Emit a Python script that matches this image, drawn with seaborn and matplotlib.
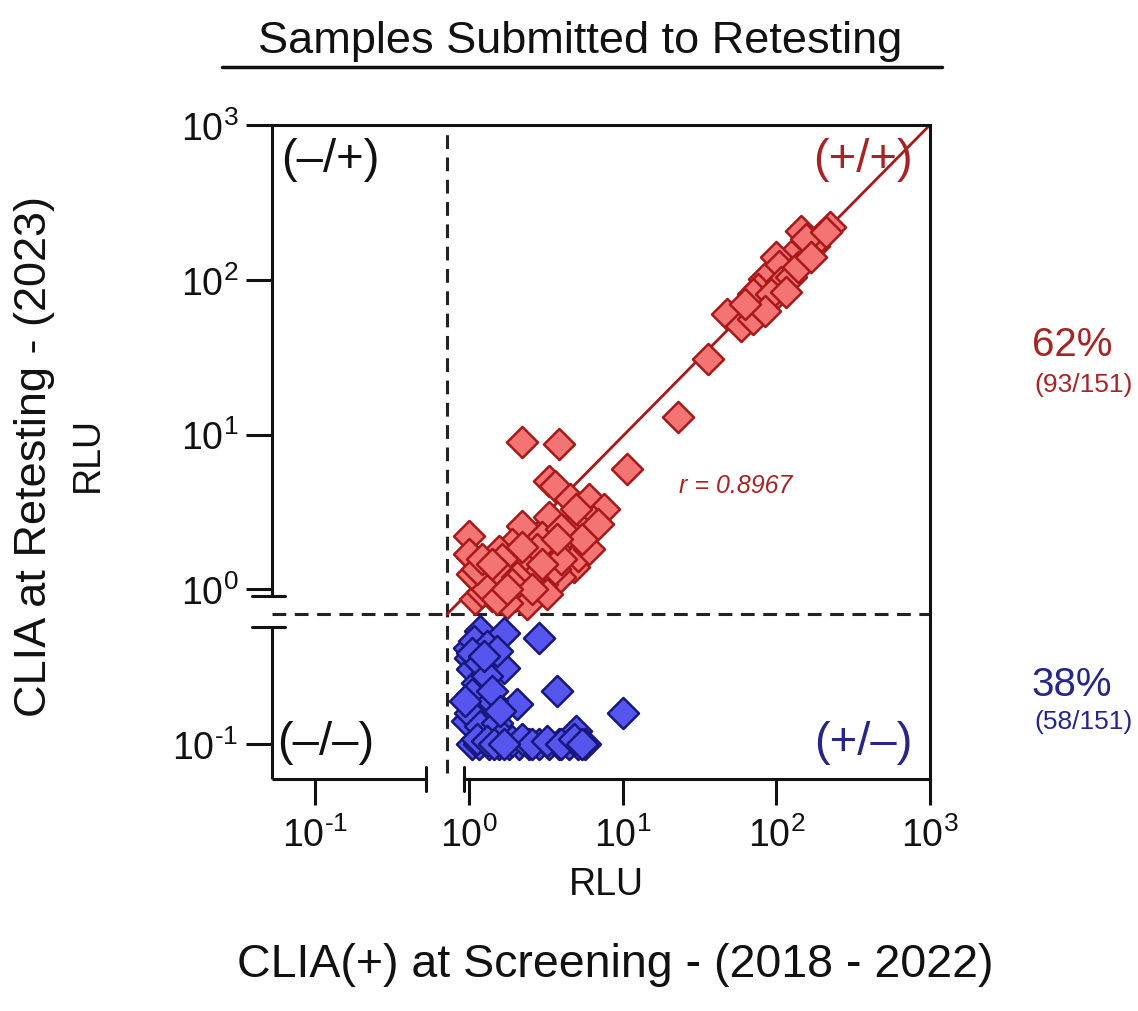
import numpy as np
import pandas as pd
import matplotlib
matplotlib.use('Agg')
import matplotlib.pyplot as plt
import seaborn as sns

# ---- data (RLU values) ----
# CLIA(+) at screening / CLIA at retesting, samples still positive (+/+)
pos_x = [225, 144, 175, 194, 124, 99, 104, 83, 76, 107, 124, 88, 71, 48, 59, 71, 36, 155,
         138, 92, 115, 85, 63, 167, 209, 23, 10.6, 2.2, 3.83, 3.30, 3.61, 4.51, 6.08, 7.61,
         6.46, 4.86, 3.30, 2.20, 2.97, 1.90, 1.00, 1.05, 1.56, 1.27, 2.31, 3.30, 3.61, 4.86,
         3.89, 2.97, 2.20, 1.64, 1.41, 1.16, 1.09, 1.82, 2.56, 4.45, 5.16, 1.35, 1.21, 1.52,
         1.99, 2.45, 6.0, 2.38, 1.76, 1.05, 1.00, 4.0, 2.76, 2.11, 1.64, 1.41, 3.2, 1.31,
         1.13, 1.64, 2.05, 3.61, 5.4, 1.90, 2.56, 1.52, 4.0, 1.21, 2.97, 2.20, 6.96, 5.0,
         3.72, 1.41, 1.76]
pos_y = [219, 206, 165, 191, 142, 140, 122, 101, 87, 97, 105, 72, 81, 60, 50, 56, 31, 183,
         121, 81, 84, 63, 70, 140, 203, 12.9, 5.97, 8.9, 8.65, 4.99, 4.63, 3.82, 3.82, 3.29,
         2.75, 2.71, 2.92, 2.55, 2.17, 1.95, 2.20, 1.61, 1.76, 1.45, 1.61, 1.49, 1.68, 1.39,
         1.20, 1.08, 1.11, 1.03, 0.90, 1.13, 0.86, 1.29, 1.35, 2.34, 1.63, 1.25, 0.96, 1.11,
         0.90, 1.16, 1.81, 0.80, 0.82, 1.25, 1.68, 2.44, 1.81, 1.52, 1.56, 1.16, 0.93, 1.0,
         1.35, 1.25, 1.20, 1.35, 2.10, 1.08, 1.0, 0.86, 1.56, 1.56, 1.45, 1.87, 2.63, 3.29,
         2.10, 1.45, 1.0]

# samples negative at retesting (+/-)
neg_x = [1.18, 1.69, 2.84, 1.00, 1.01, 1.41, 1.69, 1.05, 1.21, 1.13, 3.72, 2.05, 10.1, 1.09,
         0.97, 1.21, 1.37, 5.0,
         1.05, 1.16, 1.35, 1.56, 1.82, 2.11, 2.45, 2.84, 3.30, 3.83, 4.45, 5.16, 5.65,
         1.08, 1.31, 1.05, 1.18, 1.52, 1.31, 1.05, 1.41, 1.01, 1.18, 1.52, 1.64, 1.13, 1.31,
         1.90, 2.20, 2.56, 3.2, 4.0, 4.8, 5.4, 1.45, 1.69, 1.41, 0.94, 1.59, 1.25]
neg_y = [0.537, 0.523, 0.484, 0.418, 0.360, 0.344, 0.310, 0.305, 0.230, 0.248, 0.220, 0.181,
         0.159, 0.176, 0.141, 0.147, 0.121, 0.121,
         0.1, 0.1, 0.1, 0.1, 0.1, 0.1, 0.1, 0.1, 0.1, 0.1, 0.1, 0.1, 0.1,
         0.463, 0.430, 0.387, 0.334, 0.399, 0.275, 0.210, 0.190, 0.159, 0.131, 0.137, 0.113,
         0.108, 0.104, 0.104, 0.108, 0.100, 0.104, 0.100, 0.108, 0.100, 0.100, 0.100, 0.220,
         0.190, 0.163, 0.371]

x_cut = 0.72      # cut-off (vertical dashed line)
y_cut = 0.69      # cut-off (horizontal dashed line)
r_value = 0.8967
# fitted line as shown in the figure (log10 y = fit_icpt + fit_slope * log10 x)
fit_slope = 1.006
fit_icpt = -0.017
tick_vals = [0.1, 1, 10, 100, 1000]
tick_labels = [r'$\mathregular{10^{\text{-}1}}$', r'$\mathregular{10^{0}}$',
               r'$\mathregular{10^{1}}$', r'$\mathregular{10^{2}}$',
               r'$\mathregular{10^{3}}$']

RED_FILL = '#F47373'
RED_EDGE = '#A81818'
BLUE_FILL = '#5656EE'
BLUE_EDGE = '#17177E'
RED_TXT = '#A82424'
BLUE_TXT = '#26268A'
INK = '#111111'

sns.set_style('ticks')
plt.rcParams['font.family'] = ['Liberation Sans', 'DejaVu Sans']
plt.rcParams['mathtext.fontset'] = 'custom'
plt.rcParams['mathtext.rm'] = 'Liberation Sans'
plt.rcParams['text.color'] = INK

df_pos = pd.DataFrame({'x': pos_x, 'y': pos_y})
df_neg = pd.DataFrame({'x': neg_x, 'y': neg_y})

fig = plt.figure(figsize=(11.38, 10.12), dpi=100)
ax = fig.add_axes([0.2390, 0.2292, 0.5782, 0.6462])
ax.set_xscale('log')
ax.set_yscale('log')
x_lo, y_lo = 10 ** -1.282, 10 ** -1.226
ax.set_xlim(x_lo, 1000)
ax.set_ylim(y_lo, 1000)

# regression line
xx = np.array([x_cut, 1500])
yy = 10 ** (fit_icpt + fit_slope * np.log10(xx))
ax.plot(xx, yy, color=RED_EDGE, lw=2, zorder=2)

sns.scatterplot(data=df_pos, x='x', y='y', ax=ax, marker='D', s=250, color=RED_FILL,
                edgecolor=RED_EDGE, linewidth=1.8, zorder=3, legend=False)
sns.scatterplot(data=df_neg, x='x', y='y', ax=ax, marker='D', s=250, color=BLUE_FILL,
                edgecolor=BLUE_EDGE, linewidth=1.8, zorder=3, legend=False)

# cut-off lines
ax.axvline(x_cut, ymin=0.01, ymax=1, color='#222222', lw=2.2, ls=(0, (4.5, 2.8)), zorder=1)
ax.axhline(y_cut, color='#222222', lw=2.2, ls=(0, (4.5, 2.8)), zorder=1)

# axes / broken spines
for sp in ax.spines.values():
    sp.set_linewidth(2.2)
    sp.set_color(INK)
x_brk_lo, x_brk_hi = 0.526, 0.93
y_brk_lo, y_brk_hi = 0.568, 0.90
ax.spines['bottom'].set_bounds(x_brk_hi, 1000)
ax.spines['left'].set_bounds(y_brk_hi, 1000)
xtr = ax.get_xaxis_transform()
ytr = ax.get_yaxis_transform()
ax.plot([x_lo, x_brk_lo], [0, 0], transform=xtr, color=INK, lw=2.2,
        clip_on=False, solid_capstyle='butt')
ax.plot([0, 0], [y_lo, y_brk_lo], transform=ytr, color=INK, lw=2.2,
        clip_on=False, solid_capstyle='butt')
for xb in [x_brk_lo, x_brk_hi]:
    ax.plot([xb, xb], [-0.018, 0.018], transform=xtr, color=INK, lw=2.2, clip_on=False)
for yb in [y_brk_lo, y_brk_hi]:
    ax.plot([-0.03, 0.02], [yb, yb], transform=ytr, color=INK, lw=2.2, clip_on=False)

ax.set_xticks(tick_vals)
ax.set_xticklabels(tick_labels)
ax.set_yticks(tick_vals)
ax.set_yticklabels(tick_labels)
ax.minorticks_off()
ax.tick_params(axis='both', length=19, width=2.2, labelsize=27, colors=INK)
ax.tick_params(axis='x', pad=8)
ax.tick_params(axis='y', pad=5)
ax.set_xlabel('')
ax.set_ylabel('')

# quadrant labels
ax.text(0.088, 0.948, '(–/+)', transform=ax.transAxes, ha='center', va='center',
        fontsize=34, color=INK)
ax.text(0.898, 0.948, '(+/+)', transform=ax.transAxes, ha='center', va='center',
        fontsize=34, color=RED_TXT)
ax.text(0.081, 0.057, '(–/–)', transform=ax.transAxes, ha='center', va='center',
        fontsize=34, color=INK)
ax.text(0.898, 0.057, '(+/–)', transform=ax.transAxes, ha='center', va='center',
        fontsize=34, color=BLUE_TXT)
ax.text(0.705, 0.449, f'r = {r_value}', transform=ax.transAxes, ha='center', va='center',
        fontsize=18, style='italic', color=RED_TXT)

# percentages
n_pos, n_neg = len(pos_x), len(neg_x)
n_tot = n_pos + n_neg
fig.text(1072 / 1138, 1 - 345 / 1012, f'{round(100 * n_pos / n_tot)}%', ha='center',
         va='center', fontsize=29, color=RED_TXT)
fig.text(1084 / 1138, 1 - 385 / 1012, f'({n_pos}/{n_tot})', ha='center', va='center',
         fontsize=19, color=RED_TXT)
fig.text(1072 / 1138, 1 - 685 / 1012, f'{round(100 * n_neg / n_tot)}%', ha='center',
         va='center', fontsize=29, color=BLUE_TXT)
fig.text(1084 / 1138, 1 - 722 / 1012, f'({n_neg}/{n_tot})', ha='center', va='center',
         fontsize=19, color=BLUE_TXT)

# axis titles
fig.text(606 / 1138, 1 - 885 / 1012, 'RLU', ha='center', va='center', fontsize=27)
fig.text(615 / 1138, 1 - 965 / 1012, 'CLIA(+) at Screening - (2018 - 2022)', ha='center',
         va='center', fontsize=33.5)
fig.text(88 / 1138, 1 - 455 / 1012, 'RLU', ha='center', va='center', fontsize=27,
         rotation=90)
fig.text(35 / 1138, 1 - 457 / 1012, 'CLIA at Retesting - (2023)', ha='center', va='center',
         fontsize=32.5, rotation=90)

# header
fig.text(580 / 1138, 1 - 42 / 1012, 'Samples Submitted to Retesting', ha='center',
         va='center', fontsize=32.5)
fig.add_artist(plt.Line2D([222 / 1138, 942 / 1138], [1 - 68 / 1012, 1 - 68 / 1012],
                          color=INK, lw=2.5))

fig.savefig('out.png', dpi=100)
